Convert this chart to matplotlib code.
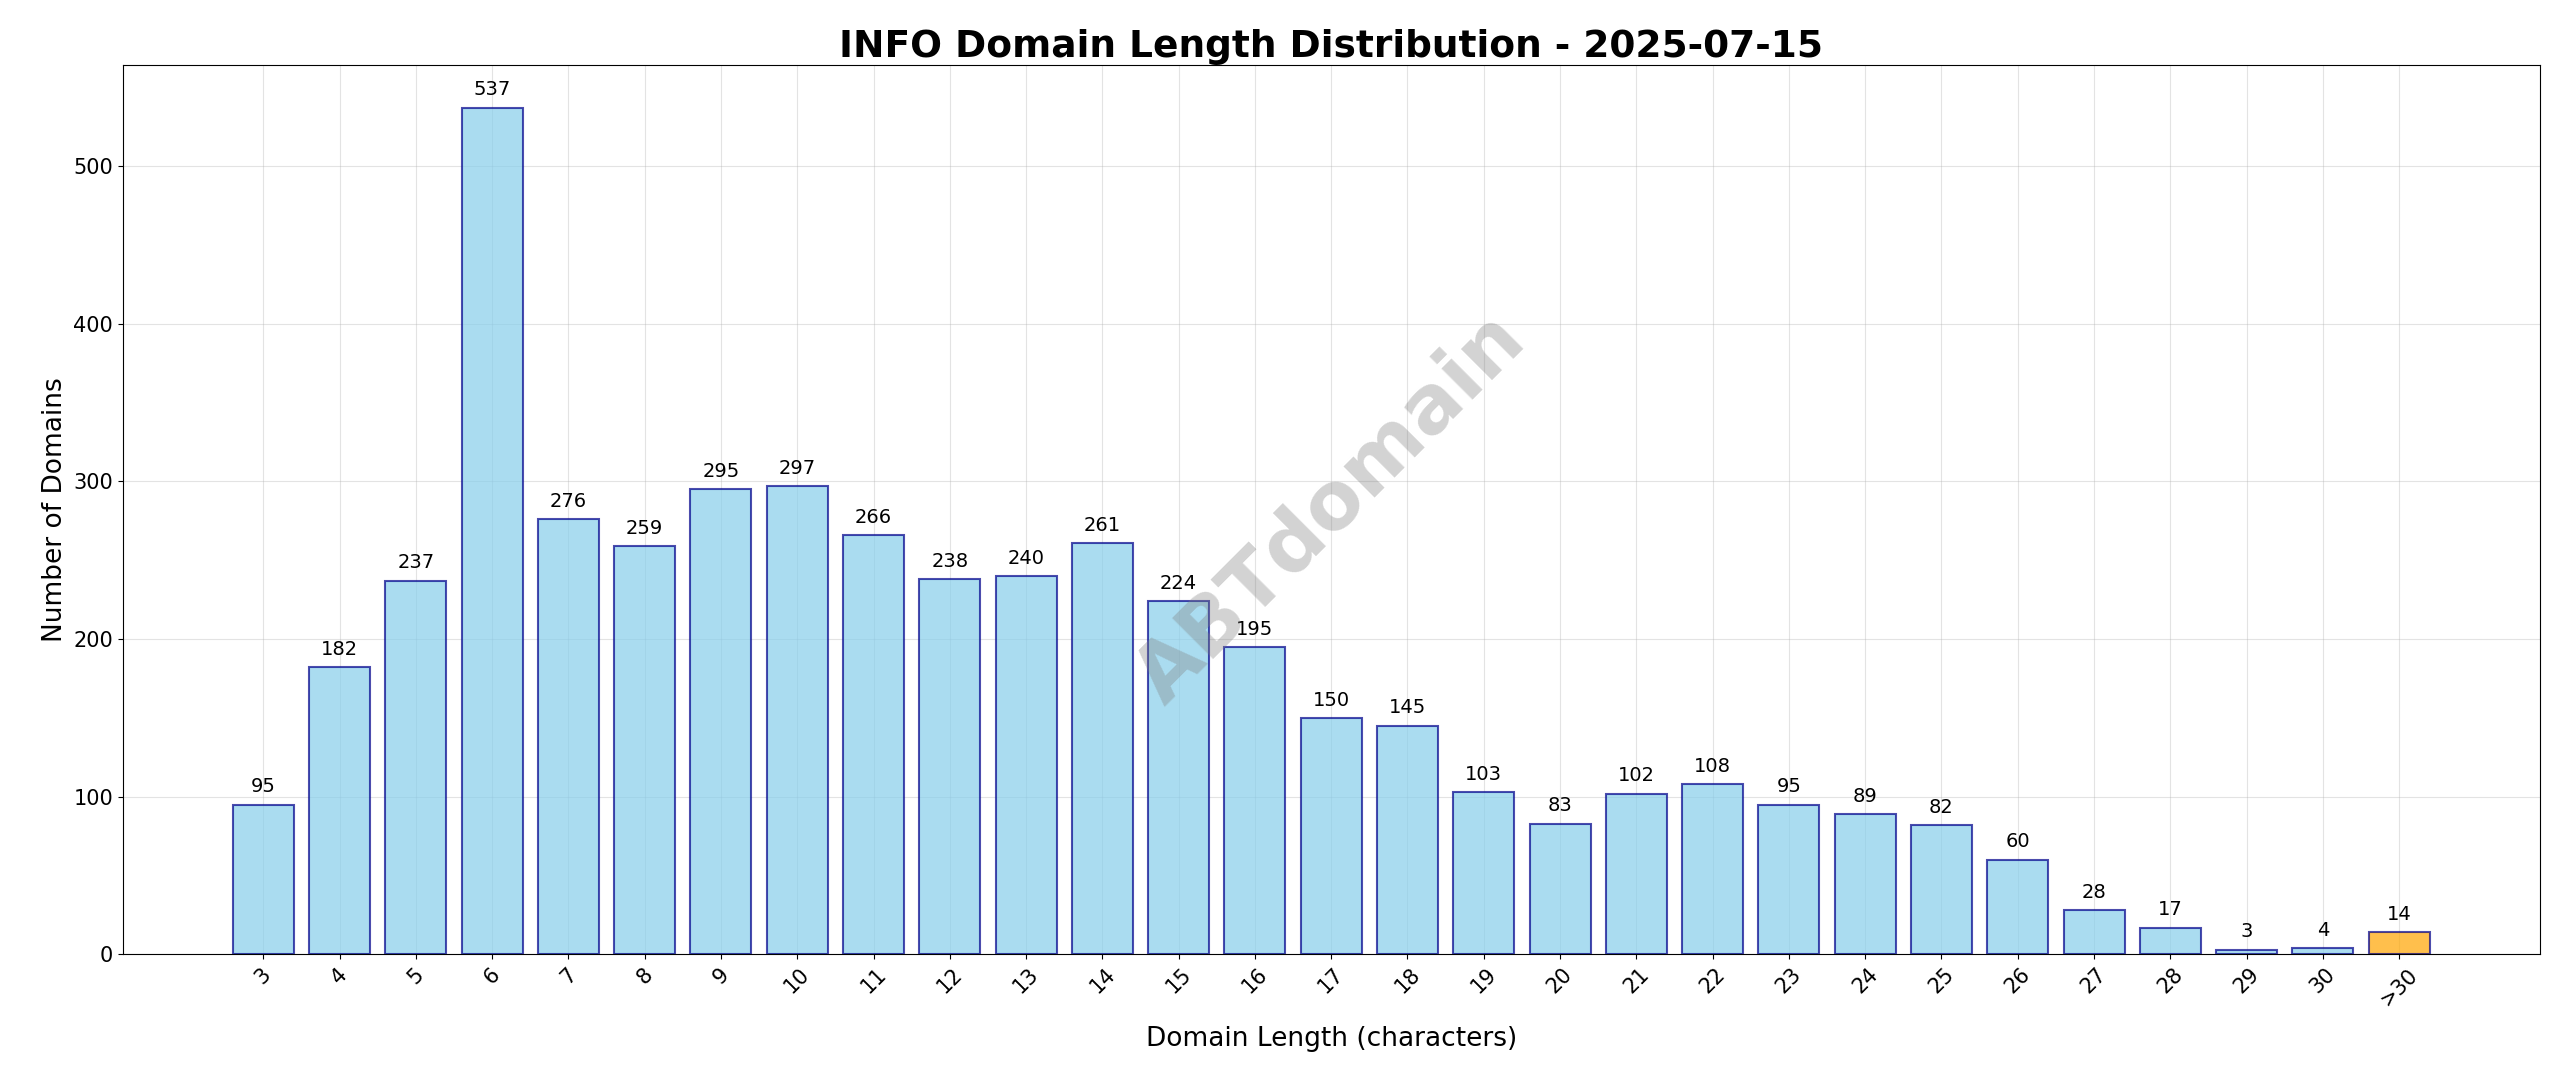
import numpy as np
import matplotlib.pyplot as plt

lengths = [str(i) for i in range(3, 31)] + [">30"]
counts = [95, 182, 237, 537, 276, 259, 295, 297, 266, 238, 240, 261, 224, 195,
          150, 145, 103, 83, 102, 108, 95, 89, 82, 60, 28, 17, 3, 4, 14]

fig, ax = plt.subplots(figsize=(25.6, 10.87), dpi=100)

x = np.arange(len(lengths))
colors = ['skyblue'] * (len(lengths) - 1) + ['orange']
bars = ax.bar(x, counts, color=colors, edgecolor='darkblue', linewidth=1.5, alpha=0.7, width=0.8)

for b, v in zip(bars, counts):
    ax.annotate(str(v), xy=(b.get_x() + b.get_width() / 2, v), xytext=(0, 6),
                textcoords='offset points', ha='center', va='bottom', fontsize=14)

ax.set_xticks(x)
ax.set_xticklabels(lengths, rotation=45, fontsize=15)
ax.tick_params(axis='y', labelsize=15)
ax.set_xlabel('Domain Length (characters)', fontsize=19, labelpad=12)
ax.set_ylabel('Number of Domains', fontsize=19)
ax.set_title('INFO Domain Length Distribution - 2025-07-15', fontsize=27, fontweight='bold')
ax.grid(True, alpha=0.35)
ax.set_axisbelow(True)
ax.set_ylim(0, 564)

ax.text(0.5, 0.5, 'ABTdomain', transform=ax.transAxes, fontsize=58, fontweight='bold',
        color='gray', alpha=0.35, rotation=45, ha='center', va='center')

plt.subplots_adjust(left=0.048, right=0.992, top=0.94, bottom=0.122)
plt.savefig('out.png')
